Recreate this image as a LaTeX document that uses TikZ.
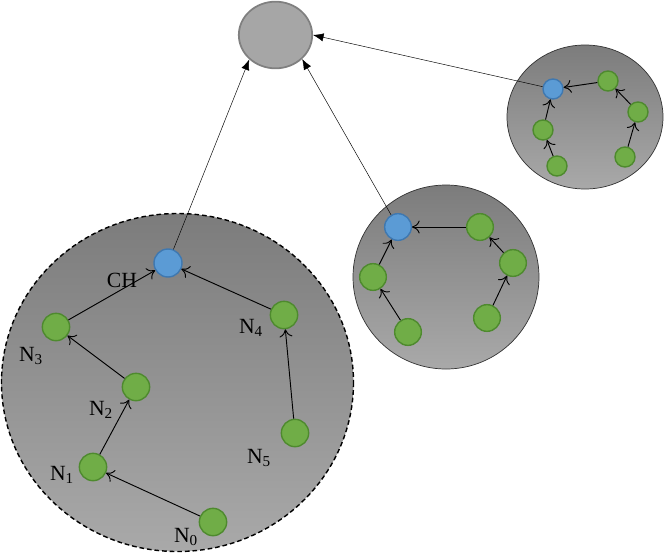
\documentclass[tikz,border=0pt]{standalone}
\usepackage{fontspec}
\setmainfont{Liberation Serif}
\usetikzlibrary{shapes.geometric,arrows.meta}

\definecolor{leaf}{HTML}{70AD47}
\definecolor{leafline}{HTML}{4E8A2E}
\definecolor{head}{HTML}{5B9BD5}
\definecolor{headline}{HTML}{3F78B0}
\definecolor{sinkfill}{HTML}{A6A6A6}
\definecolor{sinkline}{HTML}{808080}
\definecolor{areatop}{HTML}{7C7C7C}
\definecolor{areabot}{HTML}{A9A9A9}

\tikzset{
  sensor/.style={circle, fill=leaf, draw=leafline, line width=1.2pt, minimum size=0.82cm, inner sep=0pt},
  smallsensor/.style={sensor, minimum size=0.6cm},
  chnode/.style={circle, fill=head, draw=headline, line width=1.2pt, minimum size=0.84cm, inner sep=0pt},
  smallch/.style={chnode, minimum size=0.6cm},
  hop/.style={-{To[length=6.5pt,width=11pt]}, line width=0.8pt},
  uplink/.style={-{Latex[length=9pt,width=7pt]}, line width=0.4pt},
  area/.style={top color=areatop, bottom color=areabot},
  lbl/.style={inner sep=0pt, font=\fontsize{18.5}{20}\selectfont}
}

\begin{document}
\begin{tikzpicture}[x=0.03cm, y=-0.03cm]
    \useasboundingbox (0,0) rectangle (664,552);

    % cluster areas
    \draw[area, dashed, dash pattern=on 4pt off 2.5pt, line width=1.2pt] (177.5,382.5) ellipse [x radius=176, y radius=169];
    \draw[area, line width=0.6pt, draw=black!80] (446,277) ellipse [x radius=93, y radius=92];
    \draw[area, line width=0.6pt, draw=black!80] (585,117) ellipse [x radius=78, y radius=72];

    % sink
    \node[ellipse, fill=sinkfill, draw=sinkline, line width=1.5pt, minimum width=2.2cm, minimum height=2cm, inner sep=0pt] (sink) at (275.5,35) {};

    % first cluster
    \node[chnode] (ch1) at (168,263) {};
    \node[sensor] (n0) at (213,522) {};
    \node[sensor] (n1) at (93,467) {};
    \node[sensor] (n2) at (136,387) {};
    \node[sensor] (n3) at (56,327) {};
    \node[sensor] (n4) at (284,315) {};
    \node[sensor] (n5) at (295,433) {};

    \node[lbl] (lch) at (122,280) {CH};
    \node[lbl] (l0) at (186,537) {N\textsubscript{0}};
    \node[lbl] (l1) at (62,475) {N\textsubscript{1}};
    \node[lbl] (l2) at (101,410) {N\textsubscript{2}};
    \node[lbl] (l3) at (31,356) {N\textsubscript{3}};
    \node[lbl] (l4) at (251,328) {N\textsubscript{4}};
    \node[lbl] (l5) at (259,458) {N\textsubscript{5}};

    \draw[hop] (n0) -- (n1);
    \draw[hop] (n1) -- (n2);
    \draw[hop] (n2) -- (n3);
    \draw[hop] (n3) -- (ch1);
    \draw[hop] (n5) -- (n4);
    \draw[hop] (n4) -- (ch1);

    % second cluster
    \node[chnode, minimum size=0.8cm] (ch2) at (398,227) {};
    \node[sensor, minimum size=0.8cm] (b1) at (480,227) {};
    \node[sensor, minimum size=0.8cm] (b2) at (513,263) {};
    \node[sensor, minimum size=0.8cm] (b3) at (487,318) {};
    \node[sensor, minimum size=0.8cm] (b4) at (373,277) {};
    \node[sensor, minimum size=0.8cm] (b5) at (408,332) {};

    \draw[hop] (b1) -- (ch2);
    \draw[hop] (b2) -- (b1);
    \draw[hop] (b3) -- (b2);
    \draw[hop] (b4) -- (ch2);
    \draw[hop] (b5) -- (b4);

    % third cluster
    \node[smallch] (ch3) at (553,89) {};
    \node[smallsensor] (c1) at (608,81) {};
    \node[smallsensor] (c2) at (638,112) {};
    \node[smallsensor] (c3) at (625,157) {};
    \node[smallsensor] (c4) at (543,130) {};
    \node[smallsensor] (c5) at (557,166) {};

    \draw[hop] (c1) -- (ch3);
    \draw[hop] (c2) -- (c1);
    \draw[hop] (c3) -- (c2);
    \draw[hop] (c4) -- (ch3);
    \draw[hop] (c5) -- (c4);

    % links to the sink
    \draw[uplink] (ch1) -- (sink.223);
    \draw[uplink] (ch2) -- (sink.318);
    \draw[uplink] (ch3) -- (sink.east);

\end{tikzpicture}
\end{document}
